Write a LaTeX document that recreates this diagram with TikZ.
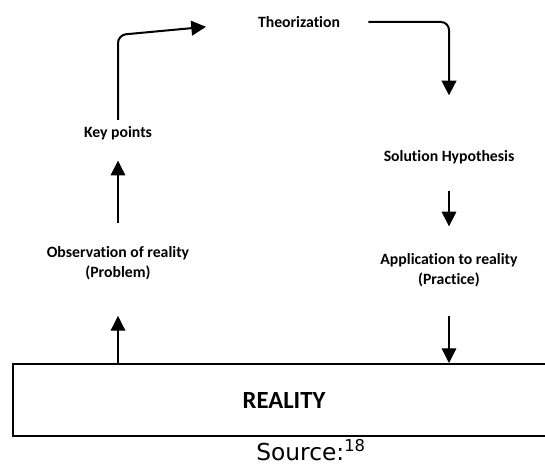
\documentclass[tikz,border=0pt]{standalone}
\usepackage{fontspec}
\setmainfont{Carlito}[Ligatures=CommonOff]
\newfontfamily\srcfont{DejaVu Sans}
\usetikzlibrary{arrows.meta}

\begin{document}
\begin{tikzpicture}[
    x=0.75pt, y=-0.75pt,
    every node/.style={font=\bfseries\fontsize{11.8}{15}\selectfont, align=center, inner sep=0pt},
    box/.style={draw, line width=1.5pt, minimum width=406.5pt, minimum height=54pt,
                font=\bfseries\fontsize{18.5}{22}\selectfont},
    arr/.style={-{Triangle[length=11pt, width=11pt]}, line width=0.8pt},
    bendarr/.style={arr, line width=1.5pt, rounded corners=6pt}
]
\useasboundingbox (0,0) rectangle (545,466);
\node (theo) at (299,22) {Theorization};
\node (key) at (118,133) {Key points};
\node (sol) at (449,157) {Solution Hypothesis};
\node (obs) at (118,263) {Observation of reality\\(Problem)};
\node (app) at (449,270) {Application to reality\\(Practice)};
\node[box] (real) at (284,400) {REALITY};
\node[font=\srcfont\fontsize{17.5}{20}\selectfont, anchor=base] (src) at (311,460) {Source:\textsuperscript{18}};
\coordinate (tl) at (118,35);
\draw[bendarr, shorten <=4.5pt, shorten >=39pt] (key.north) -- (tl) -- (theo.west);
\draw[bendarr, shorten <=21pt, shorten >=41pt] (theo.east) -| (sol.north);
\draw[arr, shorten <=20pt, shorten >=20pt] (sol.south) -- (app.north);
\draw[arr, shorten <=22pt] (app.south) -- (app.south |- real.north);
\draw[arr, shorten >=27pt] (obs.south |- real.north) -- (obs.south);
\draw[arr, shorten <=17.5pt, shorten >=15.5pt] (obs.north) -- (key.south);
\end{tikzpicture}
\end{document}
